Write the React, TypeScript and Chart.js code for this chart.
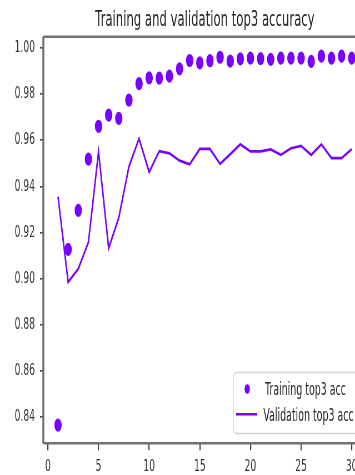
import React, { useEffect, useRef } from "react";
import { Chart, registerables } from "chart.js";

Chart.register(...registerables);

const TITLE = "Training and validation top3 accuracy";
const EPOCHS = [1, 2, 3, 4, 5, 6, 7, 8, 9, 10, 11, 12, 13, 14, 15, 16, 17, 18, 19, 20, 21, 22, 23, 24, 25, 26, 27, 28, 29, 30];
const TRAIN_TOP3 = [0.8366, 0.9127, 0.9296, 0.9518, 0.966, 0.9708, 0.9694, 0.9773, 0.9845, 0.987, 0.9869, 0.9877, 0.9909, 0.9945, 0.9935, 0.9944, 0.9959, 0.9942, 0.9952, 0.9955, 0.9953, 0.995, 0.9955, 0.9955, 0.9955, 0.9941, 0.9964, 0.9955, 0.9964, 0.9955];
const VAL_TOP3 = [0.9355, 0.8985, 0.9043, 0.9158, 0.955, 0.9132, 0.9264, 0.9485, 0.9607, 0.9461, 0.9552, 0.9543, 0.9511, 0.9495, 0.9562, 0.9562, 0.9497, 0.9539, 0.9582, 0.9551, 0.9551, 0.956, 0.9536, 0.9565, 0.9575, 0.9536, 0.9582, 0.9522, 0.9522, 0.9561];
const X_TICKS = [0, 5, 10, 15, 20, 25, 30];
const Y_TICKS = [0.84, 0.86, 0.88, 0.9, 0.92, 0.94, 0.96, 0.98, 1.0];
const SERIES_LABELS = ["Training top3 acc", "Validation top3 acc"];

const PURPLE = "#7a00ff";
const FONT = "'DejaVu Sans', sans-serif";
const K = 1.8; // horizontal squeeze of the reference picture
const CW = 680;
const CH = 475;

const framePlugin = {
  id: "frame",
  afterDatasetsDraw(chart: any) {
    const { ctx, chartArea: a } = chart;
    ctx.save();
    ctx.strokeStyle = "#707070";
    ctx.lineWidth = 2.5;
    ctx.beginPath();
    ctx.moveTo(a.left, a.top);
    ctx.lineTo(a.right, a.top);
    ctx.moveTo(a.left, a.bottom);
    ctx.lineTo(a.right, a.bottom);
    ctx.stroke();
    ctx.lineWidth = 3.5;
    ctx.beginPath();
    ctx.moveTo(a.left, a.top);
    ctx.lineTo(a.left, a.bottom);
    ctx.moveTo(a.right, a.top);
    ctx.lineTo(a.right, a.bottom);
    ctx.stroke();
    ctx.restore();
  },
  afterDraw(chart: any) {
    const { ctx, chartArea: a } = chart;
    ctx.save();
    // title
    ctx.fillStyle = "#262626";
    ctx.font = `21px ${FONT}`;
    ctx.textAlign = "center";
    ctx.textBaseline = "alphabetic";
    ctx.fillText(TITLE, (a.left + a.right) / 2, 25.5);

    // legend
    const ds = chart.data.datasets;
    const boxL = 420, boxT = 372.5, boxR = 655, boxB = 433.5;
    ctx.beginPath();
    (ctx as any).roundRect(boxL, boxT, boxR - boxL, boxB - boxT, 6);
    ctx.fillStyle = "rgba(255,255,255,0.85)";
    ctx.fill();
    ctx.strokeStyle = "#d6d6d6";
    ctx.lineWidth = 1.5;
    ctx.stroke();

    const train = ds.find((d: any) => d.label === SERIES_LABELS[0]);
    const val = ds.find((d: any) => d.label === SERIES_LABELS[1]);
    ctx.fillStyle = train.pointBackgroundColor;
    ctx.beginPath();
    ctx.arc(445, 389, 4.8, 0, Math.PI * 2);
    ctx.fill();
    ctx.strokeStyle = val.borderColor;
    ctx.lineWidth = 2.6;
    ctx.beginPath();
    ctx.moveTo(425, 414.3);
    ctx.lineTo(463, 414.3);
    ctx.stroke();

    ctx.fillStyle = "#262626";
    ctx.font = `17px ${FONT}`;
    ctx.textAlign = "left";
    ctx.fillText(train.label, 477, 394.8);
    ctx.fillText(val.label, 474, 420.8);
    ctx.restore();
  },
};

export default function App() {
  const ref = useRef<HTMLCanvasElement | null>(null);

  useEffect(() => {
    const canvas = ref.current!;
    const trainPts = EPOCHS.map((e, i) => ({ x: e, y: TRAIN_TOP3[i] }));
    const valPts = EPOCHS.map((e, i) => ({ x: e, y: VAL_TOP3[i] }));
    const chart = new Chart(canvas, {
      type: "line",
      data: {
        datasets: [
          {
            label: SERIES_LABELS[1],
            data: valPts,
            borderColor: PURPLE,
            backgroundColor: PURPLE,
            borderWidth: 2.7,
            pointRadius: 0,
            tension: 0,
            fill: false,
            order: 0,
          },
          {
            label: SERIES_LABELS[0],
            data: trainPts,
            showLine: false,
            borderColor: PURPLE,
            backgroundColor: PURPLE,
            pointBackgroundColor: PURPLE,
            pointBorderWidth: 0,
            pointRadius: 6.6,
            order: 1,
          },
        ],
      } as any,
      plugins: [framePlugin],
      options: {
        animation: false,
        responsive: false,
        devicePixelRatio: 1,
        layout: { padding: { top: 36.7, right: 20.5, bottom: 0, left: 0 } },
        plugins: {
          legend: { display: false },
          title: { display: false },
          tooltip: { enabled: false },
        },
        scales: {
          x: {
            type: "linear",
            min: -0.45,
            max: 31.45,
            afterBuildTicks: (s: any) => {
              s.ticks = X_TICKS.map((v) => ({ value: v }));
            },
            afterFit: (s: any) => {
              s.height = CH - 443.3;
            },
            ticks: {
              callback: (v: any) => String(v),
              font: { family: FONT, size: 16.5 },
              color: "#333",
              padding: 6.8,
              maxRotation: 0,
              autoSkip: false,
            },
            grid: {
              display: true,
              drawOnChartArea: false,
              drawTicks: true,
              tickLength: 7,
              color: "#444",
              lineWidth: 2.2,
            },
            border: { display: false },
          },
          y: {
            type: "linear",
            min: 0.8287,
            max: 1.0048,
            afterBuildTicks: (s: any) => {
              s.ticks = Y_TICKS.map((v) => ({ value: v }));
            },
            afterFit: (s: any) => {
              s.width = 78;
            },
            ticks: {
              callback: (v: any) => Number(v).toFixed(2),
              font: { family: FONT, size: 16.5 },
              color: "#333",
              padding: 9,
              autoSkip: false,
            },
            grid: {
              display: true,
              drawOnChartArea: false,
              drawTicks: true,
              tickLength: 6,
              color: "#444",
              lineWidth: 1.6,
            },
            border: { display: false },
          },
        },
      } as any,
    });
    return () => chart.destroy();
  }, []);

  return (
    <div
      style={{
        position: "fixed",
        left: 0,
        top: 0,
        width: 355,
        height: 475,
        overflow: "hidden",
        background: "#fff",
      }}
    >
      <div style={{ width: CW, height: CH, transform: `scaleX(${1 / K})`, transformOrigin: "0 0" }}>
        <canvas ref={ref} width={CW} height={CH} style={{ width: CW, height: CH, display: "block" }} />
      </div>
    </div>
  );
}
